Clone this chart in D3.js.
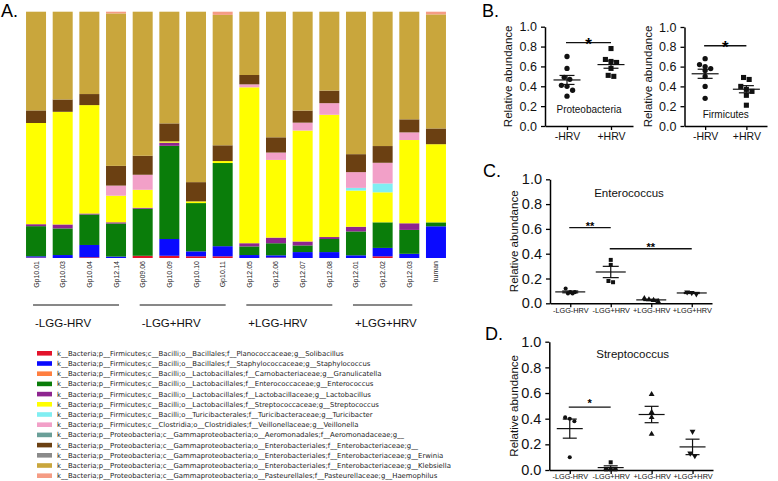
<!DOCTYPE html>
<html><head><meta charset="utf-8">
<script src="https://cdn.jsdelivr.net/npm/d3@7"></script>
<style>body{margin:0;background:#fff} svg{display:block}</style>
</head><body><svg id="c" width="778" height="481"></svg>
<script>
// ---------- Panel A data ----------
const samples = ["Gp10.01","Gp10.03","Gp10.04","Gp12.14","Gp09.06","Gp10.09","Gp10.10","Gp10.11","Gp12.05","Gp12.06","Gp12.07","Gp12.08","Gp12.01","Gp12.02","Gp12.03","human"];
const groupNames = ["-LGG-HRV","-LGG+HRV","+LGG-HRV","+LGG+HRV"];
const groupFirst = ["Gp10.01","Gp09.06","Gp12.05","Gp12.01"];
const groupLast  = ["Gp12.14","Gp10.11","Gp12.08","Gp12.03"];

const solibacillus   = [0.2,0,0.3,0,0.9,0.9,0.7,0.7,0,0.2,0,0,0,0.7,0,0];
const staphylococcus = [0.5,1.2,5.0,0.6,0,6.8,2.0,4.1,1.2,0.9,2.4,2.4,1.1,3.4,1.7,12.9];
const granulicatella = [0,0,0,0,0,0,0,0,0,0,0,0,0,0,0,0];
const enterococcus   = [12.2,10.8,12.4,13.4,19.1,37.8,19.6,33.8,3.5,4.9,2.7,5.3,9.7,10.4,9.7,1.6];
const lactobacillus  = [0.8,1.6,0.4,0.5,0.4,1.3,0,0,1.3,2.3,1.6,0.8,1.9,0,2.7,0];
const streptococcus  = [41.0,45.7,44.1,10.8,7.3,0.5,0.7,0.8,63.3,31.6,45.0,49.6,14.7,12.2,33.8,31.8];
const turicibacter   = [0,0,0,0,0,0,0,0,0,0,0,0,1.1,3.6,0,0];
const veillonella    = [0,0,0,4.1,6.1,0,0,0,1.2,3.0,3.2,4.7,6.4,8.4,3.1,0];
const aeromonadaceae = [0,0,0,0,0,0,0,0,0,0,0,0,0,0,0,0];
const enterobacteriaceae = [5.1,5.0,4.5,8.0,7.7,7.3,7.8,6.4,3.8,6.2,4.9,5.1,7.3,6.8,5.3,6.4];
const erwinia        = [0,0,0,0,0,0,0,0,0,0,0,0,0,0,0,0];
const klebsiella     = [40.0,35.6,33.5,61.9,58.5,45.3,69.2,53.0,25.7,51.1,40.1,32.0,57.9,54.6,43.7,46.4];
const haemophilus    = [0,0,0,0.7,0,0,0,1.3,0,0,0,0,0,0,0,1.1];

const taxaLabels = [
 "k__Bacteria;p__Firmicutes;c__Bacilli;o__Bacillales;f__Planococcaceae;g__Solibacillus",
 "k__Bacteria;p__Firmicutes;c__Bacilli;o__Bacillales;f__Staphylococcaceae;g__Staphylococcus",
 "k__Bacteria;p__Firmicutes;c__Bacilli;o__Lactobacillales;f__Carnobacteriaceae;g__Granulicatella",
 "k__Bacteria;p__Firmicutes;c__Bacilli;o__Lactobacillales;f__Enterococcaceae;g__Enterococcus",
 "k__Bacteria;p__Firmicutes;c__Bacilli;o__Lactobacillales;f__Lactobacillaceae;g__Lactobacillus",
 "k__Bacteria;p__Firmicutes;c__Bacilli;o__Lactobacillales;f__Streptococcaceae;g__Streptococcus",
 "k__Bacteria;p__Firmicutes;c__Bacilli;o__Turicibacterales;f__Turicibacteraceae;g__Turicibacter",
 "k__Bacteria;p__Firmicutes;c__Clostridia;o__Clostridiales;f__Veillonellaceae;g__Veillonella",
 "k__Bacteria;p__Proteobacteria;c__Gammaproteobacteria;o__Aeromonadales;f__Aeromonadaceae;g__",
 "k__Bacteria;p__Proteobacteria;c__Gammaproteobacteria;o__Enterobacteriales;f__Enterobacteriaceae;g__",
 "k__Bacteria;p__Proteobacteria;c__Gammaproteobacteria;o__Enterobacteriales;f__Enterobacteriaceae;g__Erwinia",
 "k__Bacteria;p__Proteobacteria;c__Gammaproteobacteria;o__Enterobacteriales;f__Enterobacteriaceae;g__Klebsiella",
 "k__Bacteria;p__Proteobacteria;c__Gammaproteobacteria;o__Pasteurellales;f__Pasteurellaceae;g__Haemophilus"
];
const taxaSeries = [solibacillus,staphylococcus,granulicatella,enterococcus,lactobacillus,streptococcus,turicibacter,veillonella,aeromonadaceae,enterobacteriaceae,erwinia,klebsiella,haemophilus];
const taxaColors = ["#e3132b","#0a0aff","#ff7f40","#0a7d0a","#8e2590","#ffff00","#80eef2","#f2a0c8","#6a9f98","#6b4012","#8a8a8a","#c9a63c","#f59c84"];

// ---------- Panel B data ----------
const bGroups = ["-HRV","+HRV"];
const proteoMinus = [0.70,0.58,0.49,0.47,0.41,0.40,0.36,0.30];
const proteoPlus  = [0.78,0.67,0.65,0.64,0.58,0.51,0.50];
const firmMinus   = [0.68,0.62,0.60,0.58,0.56,0.50,0.40,0.28];
const firmPlus    = [0.49,0.47,0.40,0.37,0.35,0.31,0.21];

// ---------- Panel C / D data ----------
const cdGroups = ["-LGG-HRV","-LGG+HRV","+LGG-HRV","+LGG+HRV"];
const enteroNN = [0.08,0.09,0.08,0.09,0.12];
const enteroNP = [0.35,0.31,0.17,0.18];
const enteroPN = [0.025,0.015,0.03,0.04];
const enteroPP = [0.09,0.075,0.085];
const streptoNN = [0.40,0.38,0.41,0.10];
const streptoNP = [0.06,0.005,0.005,0.005];
const streptoPN = [0.59,0.45,0.41,0.28];
const streptoPP = [0.30,0.13,0.11];

const yTicks = [0,0.2,0.4,0.6,0.8,1.0];

// ================= drawing =================
const svg = d3.select("#c");
const FONT = "Liberation Sans, Arial, sans-serif";
const FONT2 = "DejaVu Sans, Verdana, sans-serif";

// ---- Panel A ----
const xA = d3.scaleBand().domain(samples).range([22.7,449.3]).paddingInner(0.25).paddingOuter(0.125);
const yA = d3.scaleLinear().domain([0,1]).range([258,11.7]);
const rows = samples.map((s,i)=>{const r={sample:s}; taxaSeries.forEach((arr,k)=>r["t"+k]=arr[i]); return r;});
const keys = taxaSeries.map((_,k)=>"t"+k);
const stacked = d3.stack().keys(keys).offset(d3.stackOffsetExpand)(rows);
const gA = svg.append("g");
stacked.forEach((layer,k)=>{
  gA.append("g").attr("fill",taxaColors[k]).selectAll("rect").data(layer).join("rect")
    .attr("x",d=>xA(d.data.sample)).attr("width",xA.bandwidth())
    .attr("y",d=>yA(d[1])).attr("height",d=>Math.max(0,yA(d[0])-yA(d[1])));
});
// sample labels
gA.selectAll("text.sl").data(samples).join("text")
  .attr("transform",d=>`translate(${xA(d)+xA.bandwidth()/2+2.5},261) rotate(-90)`)
  .attr("text-anchor","end").attr("font-family",FONT).attr("font-size",7).attr("fill","#222")
  .text(d=>d);
// group lines & labels
groupNames.forEach((g,i)=>{
  const x1 = xA(groupFirst[i])+xA.bandwidth()/2-3, x2 = xA(groupLast[i])+xA.bandwidth()/2+3;
  gA.append("line").attr("x1",x1).attr("x2",x2).attr("y1",305).attr("y2",305).attr("stroke","#111").attr("stroke-width",1);
  gA.append("text").attr("x",xA(groupFirst[i])+9).attr("y",327).attr("font-family",FONT).attr("font-size",11.5).attr("fill","#111").text(g);
});
svg.append("text").attr("x",1).attr("y",17).attr("font-family",FONT).attr("font-size",18).text("A.");

// legend
const lg = svg.append("g");
taxaLabels.forEach((t,k)=>{
  const cy = 353.3 + k*10.2;
  lg.append("rect").attr("x",37).attr("y",cy-2.3).attr("width",15).attr("height",4.6).attr("fill",taxaColors[k]);
  lg.append("text").attr("x",57).attr("y",cy+2.5).attr("font-family",FONT2).attr("font-size",6.9).attr("fill","#222").text(t);
});

// ---- helpers for dot plots ----
function swarm(vals, y, cx, diam){
  const pts = vals.map(v=>({v, y:y(v)})).sort((a,b)=>a.y-b.y);
  const rowsS=[]; let cur=null;
  pts.forEach(p=>{ if(!cur || p.y-cur[0].y>=diam*0.9){cur=[p]; rowsS.push(cur);} else cur.push(p); });
  rowsS.forEach(r=>r.forEach((p,i)=>p.x = cx + (i-(r.length-1)/2)*diam));
  return pts;
}
const triDown = {draw(ctx,size){const s=Math.sqrt(size/(Math.sqrt(3)/4)); const h=s*Math.sqrt(3)/2;
  ctx.moveTo(-s/2,-h/3); ctx.lineTo(s/2,-h/3); ctx.lineTo(0,2*h/3); ctx.closePath();}};
function dotPlot(o){
  const g = svg.append("g");
  const x = d3.scalePoint().domain(o.groups).range(o.xr).padding(0.5);
  const y = d3.scaleLinear().domain([0,1]).range(o.yr);
  const ya = g.append("g").attr("transform",`translate(${o.xr[0]},0)`)
    .call(d3.axisLeft(y).tickValues(yTicks).tickFormat(d3.format(".1f")).tickSize(4).tickSizeOuter(0));
  ya.select(".domain").attr("stroke-width",1.5);
  ya.selectAll(".tick line").attr("stroke-width",1.3);
  ya.selectAll("text").attr("font-family",FONT).attr("font-size",o.tickFs).attr("fill","#111").attr("dx",-1);
  const xa = g.append("g").attr("transform",`translate(0,${o.yr[0]})`)
    .call(d3.axisBottom(x).tickSize(4).tickSizeOuter(0).tickPadding(2));
  xa.select(".domain").attr("stroke-width",1.5);
  xa.selectAll(".tick line").attr("stroke-width",1.3);
  xa.selectAll("text").attr("font-family",FONT).attr("font-size",o.xFs).attr("fill","#111").attr("dy",o.xDy);
  g.append("text").attr("transform",`translate(${o.xr[0]-o.ylOff},${(o.yr[0]+o.yr[1])/2}) rotate(-90)`)
    .attr("text-anchor","middle").attr("font-family",FONT).attr("font-size",o.ylFs).attr("fill","#111").text("Relative abundance");
  o.series.forEach((vals,i)=>{
    const cx = x(o.groups[i]);
    const m = d3.mean(vals), sem = d3.deviation(vals)/Math.sqrt(vals.length);
    const pts = swarm(vals,y,cx,o.diam);
    g.append("g").selectAll("path").data(pts).join("path")
      .attr("transform",p=>`translate(${p.x},${p.y})`)
      .attr("d",d3.symbol().type(o.shapes[i]).size(o.symSize[i]))
      .attr("fill","#111");
    g.append("line").attr("x1",cx-o.mhw).attr("x2",cx+o.mhw).attr("y1",y(m)).attr("y2",y(m)).attr("stroke","#111").attr("stroke-width",1.2);
    g.append("line").attr("x1",cx).attr("x2",cx).attr("y1",y(m-sem)).attr("y2",y(m+sem)).attr("stroke","#111").attr("stroke-width",1.2);
    [m-sem,m+sem].forEach(v=>g.append("line").attr("x1",cx-o.shw).attr("x2",cx+o.shw).attr("y1",y(v)).attr("y2",y(v)).attr("stroke","#111").attr("stroke-width",1.2));
  });
  o.sig.forEach(s=>{
    const x1 = x(s.from)-1, x2 = x(s.to);
    g.append("line").attr("x1",x1).attr("x2",x2).attr("y1",y(s.level)).attr("y2",y(s.level)).attr("stroke","#111").attr("stroke-width",1.4);
    g.append("text").attr("x",(x1+x2)/2).attr("y",y(s.level)+s.dy).attr("text-anchor","middle")
      .attr("font-family",FONT).attr("font-weight","bold").attr("font-size",s.fs).text(s.label);
  });
  if(o.title) g.append("text").attr("x",o.titleX!==undefined?o.titleX:(o.xr[0]+o.xr[1])/2).attr("y",y(o.titleV)).attr("text-anchor","middle")
      .attr("font-family",FONT).attr("font-size",o.titleFs).attr("fill","#111").text(o.title);
  return {x,y};
}

// ---- Panel B ----
dotPlot({groups:bGroups, xr:[545,633], yr:[126,26.7], tickFs:12.5, xFs:10.5, xDy:"7.5px", ylFs:11.5, ylOff:33,
  series:[proteoMinus,proteoPlus], shapes:[d3.symbolCircle,d3.symbolSquare], symSize:[22,26], diam:5.6, mhw:13.5, shw:7.5,
  sig:[{from:"-HRV",to:"+HRV",level:0.84,label:"*",fs:17,dy:7}],
  title:"Proteobacteria", titleV:0.135, titleFs:10});
dotPlot({groups:bGroups, xr:[684.5,767], yr:[126,27], tickFs:12.5, xFs:10.5, xDy:"7.5px", ylFs:11.5, ylOff:33,
  series:[firmMinus,firmPlus], shapes:[d3.symbolCircle,d3.symbolSquare], symSize:[22,26], diam:5.6, mhw:13.5, shw:7.5,
  sig:[{from:"-HRV",to:"+HRV",level:0.81,label:"*",fs:17,dy:7}],
  title:"Firmicutes", titleV:0.085, titleFs:10});
svg.append("text").attr("x",482).attr("y",17).attr("font-family",FONT).attr("font-size",18).text("B.");

// ---- Panel C ----
dotPlot({groups:cdGroups, xr:[550,712], yr:[303.3,179.3], tickFs:14.5, xFs:7.3, xDy:"4.2px", ylFs:11.5, ylOff:32,
  series:[enteroNN,enteroNP,enteroPN,enteroPP], shapes:[d3.symbolCircle,d3.symbolSquare,d3.symbolTriangle,triDown], symSize:[13,16,15,15], diam:4.6, mhw:15, shw:8,
  sig:[{from:"-LGG-HRV",to:"-LGG+HRV",level:0.61,label:"**",fs:11,dy:2.5},{from:"-LGG+HRV",to:"+LGG+HRV",level:0.44,label:"**",fs:11,dy:2.5}],
  title:"Enterococcus", titleV:0.86, titleFs:11.5, titleX:629});
svg.append("text").attr("x",483).attr("y",177).attr("font-family",FONT).attr("font-size",18).text("C.");

// ---- Panel D ----
dotPlot({groups:cdGroups, xr:[549.3,713], yr:[470,341.7], tickFs:14.5, xFs:7.3, xDy:"3.2px", ylFs:11.5, ylOff:31,
  series:[streptoNN,streptoNP,streptoPN,streptoPP], shapes:[d3.symbolCircle,d3.symbolSquare,d3.symbolTriangle,triDown], symSize:[13,16,15,15], diam:4.6, mhw:13, shw:7,
  sig:[{from:"-LGG-HRV",to:"-LGG+HRV",level:0.49,label:"*",fs:11,dy:-0.5}],
  title:"Streptococcus", titleV:0.87, titleFs:11.5, titleX:632.7});
svg.append("text").attr("x",485).attr("y",340).attr("font-family",FONT).attr("font-size",18).text("D.");
</script></body></html>
